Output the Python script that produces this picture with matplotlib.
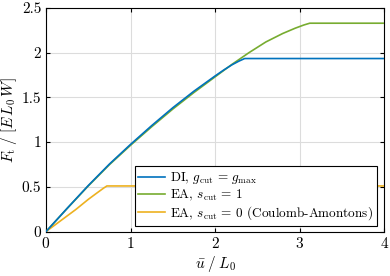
import matplotlib
matplotlib.use("Agg")
import matplotlib.pyplot as plt

plt.rcParams["font.family"] = "serif"
plt.rcParams["font.serif"] = ["cmr10", "DejaVu Serif"]
plt.rcParams["mathtext.fontset"] = "cm"
plt.rcParams["axes.formatter.use_mathtext"] = True

# DI, g_cut = g_max
x_di = [0, 0.25, 0.5, 0.75, 1.0, 1.25, 1.5, 1.75, 2.0, 2.1, 2.2, 2.28, 2.35, 4.0]
y_di = [0, 0.26, 0.515, 0.755, 0.975, 1.185, 1.385, 1.57, 1.74, 1.805, 1.865, 1.905,
        1.935, 1.935]

# EA, s_cut = 1
x_ea1 = [0, 0.25, 0.5, 0.75, 1.0, 1.25, 1.5, 1.75, 2.0, 2.2, 2.4, 2.6, 2.8,
         2.95, 3.05, 3.12, 4.0]
y_ea1 = [0, 0.258, 0.51, 0.748, 0.965, 1.172, 1.37, 1.555, 1.73, 1.87, 2.0, 2.12,
         2.215, 2.275, 2.31, 2.33, 2.33]

# EA, s_cut = 0 (Coulomb-Amontons)
x_ea0 = [0, 0.2, 0.35, 0.5, 0.6, 0.68, 0.72, 4.0]
y_ea0 = [0, 0.14, 0.245, 0.36, 0.43, 0.485, 0.51, 0.51]

fig = plt.figure(figsize=(3.9, 2.76), dpi=100)
ax = fig.add_axes([0.118, 0.161, 0.867, 0.81])

ax.plot(x_di, y_di, color="#0072BD", lw=1.2,
        label=r"DI, $g_{\rm cut}\,=\,g_{\max}$", zorder=4)
ax.plot(x_ea1, y_ea1, color="#77AC30", lw=1.2,
        label=r"EA, $s_{\rm cut}\,=\,1$", zorder=3)
ax.plot(x_ea0, y_ea0, color="#EDB120", lw=1.2,
        label=r"EA, $s_{\rm cut}\,=\,0$ (Coulomb-Amontons)", zorder=3)

ax.set_xlim(0, 4)
ax.set_ylim(0, 2.5)
ax.set_xticks([0, 1, 2, 3, 4])
ax.set_yticks([0, 0.5, 1, 1.5, 2, 2.5])
ax.set_yticklabels(["0", "0.5", "1", "1.5", "2", "2.5"])
ax.grid(True, color="#dcdcdc", lw=0.8)
ax.tick_params(direction="in", top=True, right=True, labelsize=11, length=3)
for s in ax.spines.values():
    s.set_linewidth(0.8)
ax.set_xlabel(r"$\bar{u}\;/\;L_0$", fontsize=11, labelpad=2)
ax.set_ylabel(r"$F_{\rm t}\;/\;[E\,L_0\,W]$", fontsize=11, labelpad=2)

leg = ax.legend(loc="lower right", bbox_to_anchor=(0.979, 0.025), fontsize=9.5,
                fancybox=False, framealpha=1, edgecolor="black", handlelength=2.0,
                borderpad=0.3, labelspacing=0.1, handletextpad=0.4, borderaxespad=0)
leg.get_frame().set_linewidth(0.8)

fig.savefig("out.png", dpi=100)
